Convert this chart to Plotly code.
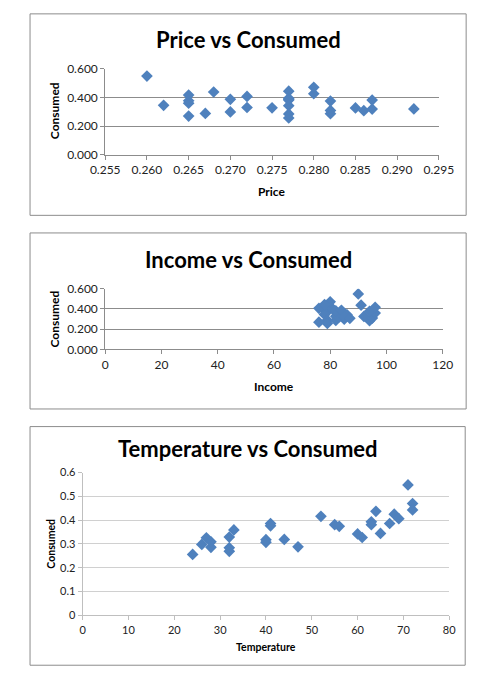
import plotly.graph_objects as go

# Ice cream consumption data (30 periods)
consumed = [0.386, 0.374, 0.393, 0.425, 0.406, 0.344, 0.327, 0.288, 0.269, 0.256,
            0.286, 0.298, 0.329, 0.318, 0.381, 0.381, 0.470, 0.443, 0.386, 0.342,
            0.319, 0.307, 0.284, 0.326, 0.309, 0.359, 0.376, 0.416, 0.437, 0.548]
price = [0.270, 0.282, 0.277, 0.280, 0.272, 0.262, 0.275, 0.267, 0.265, 0.277,
         0.282, 0.270, 0.272, 0.287, 0.277, 0.287, 0.280, 0.277, 0.277, 0.277,
         0.292, 0.286, 0.277, 0.285, 0.282, 0.265, 0.265, 0.265, 0.268, 0.260]
income = [78, 79, 81, 80, 76, 78, 82, 79, 76, 79,
          82, 85, 86, 83, 84, 82, 80, 78, 84, 86,
          85, 87, 94, 92, 95, 96, 94, 96, 91, 90]
temperature = [41, 56, 63, 68, 69, 65, 61, 47, 32, 24,
               28, 26, 32, 40, 55, 63, 72, 72, 67, 60,
               44, 40, 32, 27, 28, 33, 41, 52, 64, 71]

titles = ["Price vs Consumed", "Income vs Consumed", "Temperature vs Consumed"]
xtitles = ["Price", "Income", "Temperature"]

W, H = 499, 682
def px(x): return x / W
def py(y): return 1 - y / H

FONT = "Lato"
BLUE = "#4F81BD"

fig = go.Figure()

specs = [
    dict(x=price, xd=(96, 451), yd=(150, 62), xr=[0.255, 0.295], xdt=0.005, xfmt=".3f",
         yfmt=".3f", ydt=0.2, grid="#8c8c8c", box=(16, 6, 480, 212),
         ty=32, xty=188, yty=(42, 105)),
    dict(x=income, xd=(96, 455), yd=(349, 287), xr=[0, 120], xdt=20, xfmt="",
         yfmt=".3f", ydt=0.2, grid="#8c8c8c", box=(16, 230, 480, 410),
         ty=257, xty=387, yty=(42, 318)),
    dict(x=temperature, xd=(72, 462), yd=(621, 475), xr=[0, 80], xdt=10, xfmt="",
         yfmt="", ydt=0.1, grid="#d0d0d0", box=(16, 428, 479, 672),
         ty=450, xty=653, yty=(38, 548)),
]

for i, s in enumerate(specs):
    n = "" if i == 0 else str(i + 1)
    fig.add_trace(go.Scatter(
        x=s["x"], y=consumed, mode="markers",
        marker=dict(symbol="diamond", size=9, color=BLUE, line=dict(width=0)),
        xaxis="x" + n, yaxis="y" + n, showlegend=False, hoverinfo="skip"))
    small = 12 if i < 2 else 11
    lc = "#8c8c8c" if i < 2 else "#bfbfbf"
    fig.update_layout(**{
        "xaxis" + n: dict(domain=[px(s["xd"][0]), px(s["xd"][1])], anchor="y" + n,
                          range=s["xr"], dtick=s["xdt"], tick0=0, tickformat=s["xfmt"],
                          showgrid=False, zeroline=False, showline=True,
                          linecolor=lc, linewidth=1,
                          ticks="outside", ticklen=4, tickcolor=lc,
                          tickfont=dict(family=FONT, size=small, color="#222")),
        "yaxis" + n: dict(domain=[py(s["yd"][0]), py(s["yd"][1])], anchor="x" + n,
                          range=[0, 0.6], dtick=s["ydt"], tickformat=s["yfmt"],
                          showgrid=True, gridcolor=s["grid"], gridwidth=1, zeroline=False,
                          showline=True, linecolor=lc, linewidth=1,
                          ticks="outside", ticklen=4, tickcolor=lc,
                          tickfont=dict(family=FONT, size=small, color="#222")),
    })
    b = s["box"]
    fig.add_shape(type="rect", xref="paper", yref="paper",
                  x0=px(b[0]), y0=py(b[3]), x1=px(b[2]), y1=py(b[1]),
                  line=dict(color="#8c8c8c", width=1), layer="below")
    fig.add_annotation(text="<b>" + titles[i] + "</b>", xref="paper", yref="paper",
                       x=px(248), y=py(s["ty"]), showarrow=False,
                       xanchor="center", yanchor="middle",
                       font=dict(family=FONT, size=22, color="#000"))
    fig.add_annotation(text="<b>" + xtitles[i] + "</b>", xref="paper", yref="paper",
                       x=px((s["xd"][0] + s["xd"][1]) / 2), y=py(s["xty"]), showarrow=False,
                       xanchor="center", yanchor="middle",
                       font=dict(family=FONT, size=12 if i < 2 else 10.5, color="#000"))
    fig.add_annotation(text="<b>Consumed</b>", xref="paper", yref="paper",
                       x=px(s["yty"][0]), y=py(s["yty"][1]), showarrow=False,
                       textangle=-90, xanchor="center", yanchor="middle",
                       font=dict(family=FONT, size=12 if i < 2 else 10.5, color="#000"))

fig.update_layout(width=W, height=H, margin=dict(l=0, r=0, t=0, b=0),
                  paper_bgcolor="white", plot_bgcolor="white", hovermode=False)

fig.write_html("out.html", config={"displayModeBar": False},
               post_script="document.body.style.margin='0';")
